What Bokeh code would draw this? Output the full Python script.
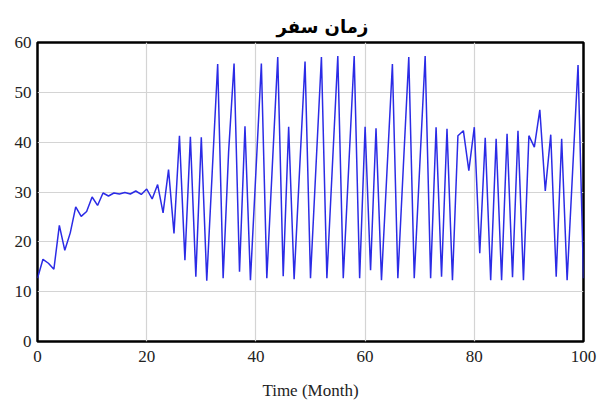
from bokeh.plotting import figure
from bokeh.models import Range1d, FixedTicker
from bokeh.embed import file_html
from bokeh.resources import INLINE

months = list(range(101))
travel_time = [
    12.7, 16.5, 15.7, 14.5, 23.3, 18.3, 21.8, 27.0, 25.1, 26.1,
    29.0, 27.3, 29.8, 29.2, 29.8, 29.6, 29.9, 29.6, 30.2, 29.5,
    30.6, 28.6, 31.5, 25.8, 34.5, 21.7, 41.3, 16.3, 41.1, 13.0,
    41.0, 12.2, 34.0, 55.7, 12.7, 38.0, 55.8, 14.0, 43.2, 12.3,
    34.0, 55.8, 12.7, 35.0, 57.1, 13.1, 43.1, 12.5, 34.4, 56.2,
    12.7, 35.0, 57.1, 12.7, 35.0, 57.3, 12.7, 35.0, 57.3, 12.7,
    43.1, 14.3, 42.8, 12.3, 34.0, 55.7, 12.7, 35.0, 57.1, 12.7,
    35.0, 57.3, 12.7, 43.0, 13.0, 42.7, 12.3, 41.3, 42.3, 34.3,
    43.0, 17.7, 40.9, 12.3, 40.7, 12.3, 41.7, 12.9, 42.3, 12.3,
    41.3, 39.0, 46.5, 30.2, 41.5, 13.0, 40.7, 12.3, 34.0, 55.5,
    12.7,
]
x_ticks = [0, 20, 40, 60, 80, 100]
y_ticks = [0, 10, 20, 30, 40, 50, 60]
title_text = "زمان سفر"
x_label = "Time (Month)"

p = figure(width=598, height=402, output_backend="svg", toolbar_location=None,
           x_range=Range1d(0, 100), y_range=Range1d(0, 60),
           min_border_left=37, min_border_right=15,
           min_border_top=42, min_border_bottom=60)

p.title.text = title_text
p.title.align = "left"
p.title.text_font = "DejaVu Sans"
p.title.text_font_size = "18px"
p.title.text_font_style = "bold"
p.title.text_color = "black"
p.title.offset = 239
p.title.standoff = 12

p.line(months, travel_time, line_color="#2b2be6", line_width=1.5)

p.outline_line_color = "black"
p.outline_line_width = 2.5
p.background_fill_color = "white"
p.border_fill_color = "white"

p.xaxis.ticker = FixedTicker(ticks=x_ticks)
p.yaxis.ticker = FixedTicker(ticks=y_ticks)
for ax in (p.xaxis, p.yaxis):
    ax.axis_line_color = None
    ax.major_tick_line_color = None
    ax.minor_tick_line_color = None
    ax.major_tick_out = 0
    ax.major_tick_in = 0
    ax.major_label_text_font = "Liberation Serif"
    ax.major_label_text_font_size = "17px"
    ax.major_label_text_color = "#222222"

p.xaxis.major_label_standoff = 9
p.yaxis.major_label_standoff = 6
p.xaxis.axis_label = x_label
p.xaxis.axis_label_text_font = "Liberation Serif"
p.xaxis.axis_label_text_font_size = "17px"
p.xaxis.axis_label_text_font_style = "normal"
p.xaxis.axis_label_text_color = "#222222"
p.xaxis.axis_label_standoff = 16

p.xgrid.grid_line_color = "#d4d4d4"
p.ygrid.grid_line_color = "#d4d4d4"
p.xgrid.grid_line_width = 1.2
p.ygrid.grid_line_width = 1.2

open("out.html", "w").write(file_html(p, INLINE))
